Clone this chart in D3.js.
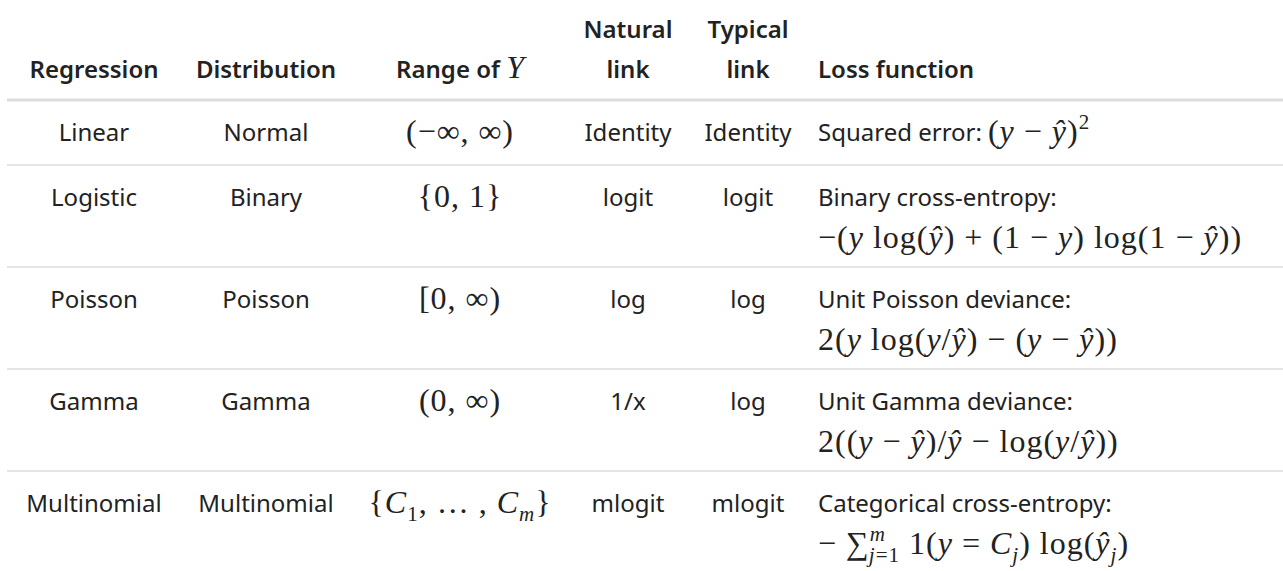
<!DOCTYPE html>
<html><head><meta charset="utf-8">
<script src="https://cdn.jsdelivr.net/npm/d3@7"></script>
<style>body{margin:0;background:#fff}</style>
</head><body><div class="container"></div>
<script>
const w = 1283, h = 571;

// table data
const headers = [['Regression'], ['Distribution'], ['Range of ', [['Y','i']]], ['Natural', 'link'], ['Typical', 'link'], ['Loss function']];
const regressions = ['Linear', 'Logistic', 'Poisson', 'Gamma', 'Multinomial'];
const distributions = ['Normal', 'Binary', 'Poisson', 'Gamma', 'Multinomial'];
const ranges = [
  [['(−∞, ∞)','r']],
  [['{0, 1}','r']],
  [['[0, ∞)','r']],
  [['(0, ∞)','r']],
  [['{','r'],['C','i'],['1','b'],[', … , ','r'],['C','i'],['m','bi'],['}','r']]
];
const naturalLinks = ['Identity', 'logit', 'log', '1/x', 'mlogit'];
const typicalLinks = ['Identity', 'logit', 'log', 'log', 'mlogit'];
const lossNames = ['Squared error: ', 'Binary cross-entropy:', 'Unit Poisson deviance:', 'Unit Gamma deviance:', 'Categorical cross-entropy:'];
const lossFormulas = [
  [['(','r'],['y','i'],[' − ','r'],['ŷ','i'],[')','r'],['2','p']],
  [['−(','r'],['y','i'],[' log(','r'],['ŷ','i'],[') + (1 − ','r'],['y','i'],[') log(1 − ','r'],['ŷ','i'],['))','r']],
  [['2(','r'],['y','i'],[' log(','r'],['y','i'],['/','r'],['ŷ','i'],[') − (','r'],['y','i'],[' − ','r'],['ŷ','i'],['))','r']],
  [['2((','r'],['y','i'],[' − ','r'],['ŷ','i'],[')/','r'],['ŷ','i'],[' − log(','r'],['y','i'],['/','r'],['ŷ','i'],['))','r']],
  [['− ∑','r'],['m','pi'],['j','bik'],['=1','b'],[' 1(','r'],['y','i'],[' = ','r'],['C','i'],['j','bi'],[') log(','r'],['ŷ','i'],['j','bi'],[')','r']]
];

const colX = [94, 266, 460, 628, 748, 818];
const textFont = '"Noto Sans", sans-serif', mathFont = '"Liberation Serif", serif';
const fs = 24, mfs = 32, lineGap = 42;

const svg = d3.select('.container').append('svg').attr('width', w).attr('height', h);

// row layout
const headBottom = 100;
const rowH = lossFormulas.map((d, i) => i === 0 ? 65 : 102);
const rowTop = rowH.map((d, i) => headBottom + d3.sum(rowH.slice(0, i)));

function mathText(g, segs, x, y, anchor) {
  const t = g.append('text').attr('x', x).attr('y', y)
    .attr('text-anchor', anchor).style('font-family', mathFont).style('font-size', mfs + 'px')
    .style('letter-spacing', '1px').attr('fill', '#222');
  let shift = 0, prev = null;
  segs.forEach(([s, st]) => {
    const sp = t.append('tspan').text(s);
    let dy = 0, size = mfs;
    if (st.includes('b')) { dy = 8; size = 21; }
    if (st.includes('p')) { dy = -13; size = 21; }
    sp.attr('dy', dy - shift).style('font-size', size + 'px');
    if (st.includes('k') && prev) sp.attr('dx', -prev.node().getComputedTextLength() - 1);
    shift = dy;
    if (st.includes('i')) sp.style('font-style', 'italic');
    prev = sp;
  });
  return t;
}

// header
headers.forEach((hd, i) => {
  const anchor = i === 5 ? 'start' : 'middle';
  const lines = hd.length === 2 && typeof hd[1] === 'string' ? hd : [hd];
  lines.forEach((ln, j) => {
    const y = 78 - (lines.length - 1 - j) * 40;
    const t = svg.append('text').attr('x', colX[i]).attr('y', y).attr('text-anchor', anchor)
      .style('font-family', textFont).style('font-size', fs + 'px').style('font-weight', 600).attr('fill', '#222');
    (Array.isArray(ln) ? ln : [ln]).forEach(part => {
      if (typeof part === 'string') t.append('tspan').text(part);
      else part.forEach(([s]) => t.append('tspan').text(s).style('font-family', mathFont)
        .style('font-style', 'italic').style('font-weight', 'normal').style('font-size', mfs + 'px'));
    });
  });
});

svg.append('line').attr('x1', 7).attr('x2', w).attr('y1', headBottom).attr('y2', headBottom)
  .attr('stroke', '#ddd').attr('stroke-width', 3);

// rows
regressions.forEach((r, i) => {
  const g = svg.append('g');
  const base = rowTop[i] + 41;
  const plain = [r, distributions[i], null, naturalLinks[i], typicalLinks[i]];
  plain.forEach((s, c) => {
    if (s === null) return;
    g.append('text').attr('x', colX[c]).attr('y', base).attr('text-anchor', 'middle')
      .style('font-family', textFont).style('font-size', fs + 'px').attr('fill', '#222').text(s);
  });
  mathText(g, ranges[i], colX[2], base + 1, 'middle');
  const ln = g.append('text').attr('x', colX[5]).attr('y', base)
    .style('font-family', textFont).style('font-size', fs + 'px').attr('fill', '#222').text(lossNames[i]);
  if (i === 0) {
    const wName = ln.node().getComputedTextLength();
    mathText(g, lossFormulas[i], colX[5] + wName + 6, base + 1, 'start');
  } else {
    mathText(g, lossFormulas[i], colX[5], base + lineGap, 'start');
  }
  if (i < regressions.length - 1) {
    const y = rowTop[i] + rowH[i];
    svg.append('line').attr('x1', 7).attr('x2', w).attr('y1', y).attr('y2', y)
      .attr('stroke', '#ddd').attr('stroke-width', 1.5);
  }
});
</script></body></html>
